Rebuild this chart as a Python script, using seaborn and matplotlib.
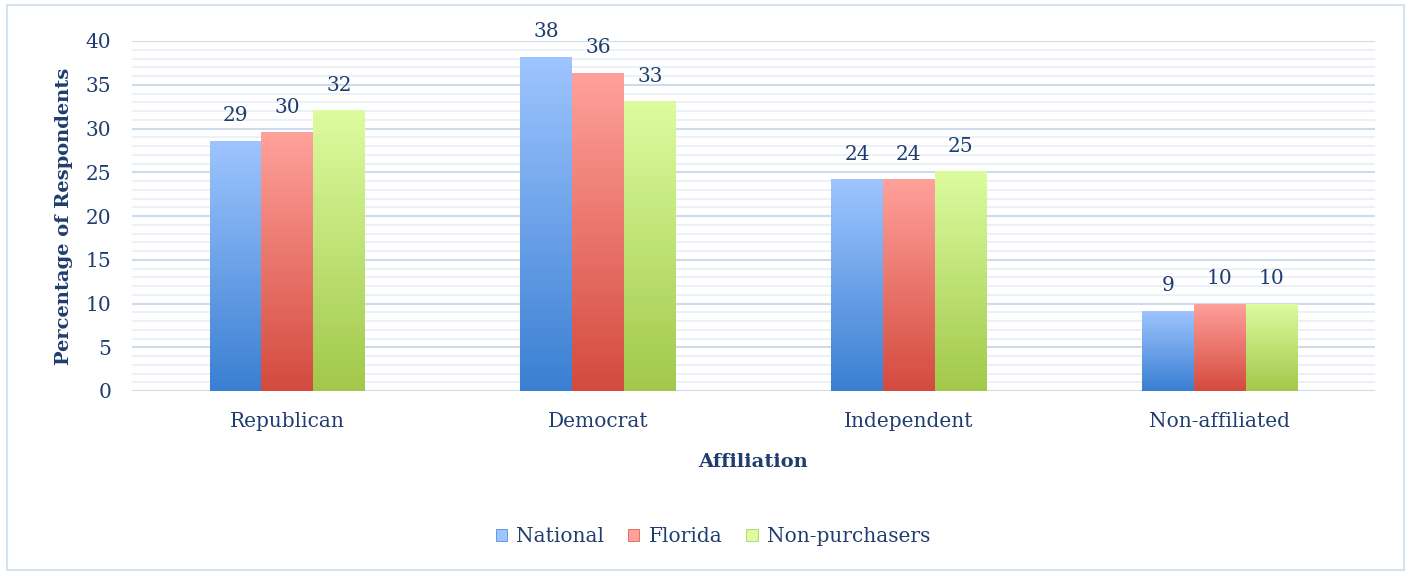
import numpy as np
import pandas as pd
import matplotlib.pyplot as plt
import seaborn as sns
from matplotlib.colors import LinearSegmentedColormap
from matplotlib.patches import Rectangle, Patch
from matplotlib.ticker import MultipleLocator

# Data
affiliations = ["Republican", "Democrat", "Independent", "Non-affiliated"]
groups = ["National", "Florida", "Non-purchasers"]
national = [28.6, 38.2, 24.2, 9.2]
florida = [29.6, 36.4, 24.2, 10.0]
non_purchasers = [32.1, 33.1, 25.1, 10.0]

df = pd.DataFrame({
    "Affiliation": affiliations * 3,
    "Group": np.repeat(groups, len(affiliations)),
    "Value": national + florida + non_purchasers,
})

# top (light) / bottom (dark) colours of each gradient
grad = {
    "National": ("#9ec5ff", "#3a7fd2"),
    "Florida": ("#ffa19b", "#d44a3e"),
    "Non-purchasers": ("#dcfc9f", "#a2c84b"),
}
text_col = "#1f3d6e"

sns.set_theme(style="white")
plt.rcParams["font.family"] = ["DejaVu Serif"]

fig = plt.figure(figsize=(14.1, 5.75), dpi=100)
ax = fig.add_axes([132 / 1410, 1 - 391 / 575, (1375 - 132) / 1410, 350 / 575])

sns.barplot(data=df, x="Affiliation", y="Value", hue="Group", order=affiliations,
            hue_order=groups, palette={g: grad[g][1] for g in groups},
            width=0.5, gap=0, saturation=1, errorbar=None, legend=False, ax=ax,
            linewidth=0)

# gradient fill clipped to each bar + value labels
for g, cont in zip(groups, ax.containers):
    cmap = LinearSegmentedColormap.from_list(g, [grad[g][1], grad[g][0]])
    for bar in cont:
        x0, y0 = bar.get_x(), bar.get_y()
        w, h = bar.get_width(), bar.get_height()
        img = ax.imshow(np.linspace(0, 1, 256).reshape(-1, 1), cmap=cmap,
                        extent=(x0, x0 + w, y0, y0 + h), origin="lower",
                        aspect="auto", zorder=bar.get_zorder() + 0.1)
        img.set_clip_path(bar)
        ax.annotate(f"{round(h):d}", (x0 + w / 2, h), xytext=(0, 14),
                    textcoords="offset points", ha="center", va="baseline",
                    fontsize=14.5, color=text_col)

ax.set_ylim(0, 40)
ax.set_xlim(-0.5, 3.5)

# gridlines
ax.yaxis.set_major_locator(MultipleLocator(5))
ax.yaxis.set_minor_locator(MultipleLocator(1))
ax.grid(axis="y", which="major", color="#cddbed", linewidth=1.5, zorder=0)
ax.grid(axis="y", which="minor", color="#e9eff7", linewidth=1.2, zorder=0)
ax.grid(axis="x", visible=False)
ax.set_axisbelow(True)
for s in ax.spines.values():
    s.set_visible(False)

ax.tick_params(axis="y", which="both", length=0, labelsize=14.5, labelcolor=text_col, pad=15)
ax.tick_params(axis="x", length=0, labelsize=14.5, labelcolor=text_col, pad=15)

ax.set_ylabel("Percentage of Respondents", fontsize=14, fontweight="bold",
              color=text_col, labelpad=9)
ax.set_xlabel("Affiliation", fontsize=14, fontweight="bold", color=text_col, labelpad=16)

handles = [Patch(facecolor=grad[g][0], edgecolor=grad[g][1], linewidth=0.5, label=g)
           for g in groups]
fig.legend(handles=handles, loc="center", bbox_to_anchor=(713 / 1410, 1 - 537 / 575),
           ncol=3, frameon=False, fontsize=14.5, handlelength=0.55, handleheight=0.55,
           handletextpad=0.45, columnspacing=1.2, labelcolor=text_col)

# light outer border
fig.patches.append(Rectangle((7 / 1410, 5 / 575), 1397 / 1410, 565 / 575,
                             transform=fig.transFigure, fill=False,
                             edgecolor="#d5e2f0", linewidth=1.5))

fig.savefig("out.png", dpi=100)
